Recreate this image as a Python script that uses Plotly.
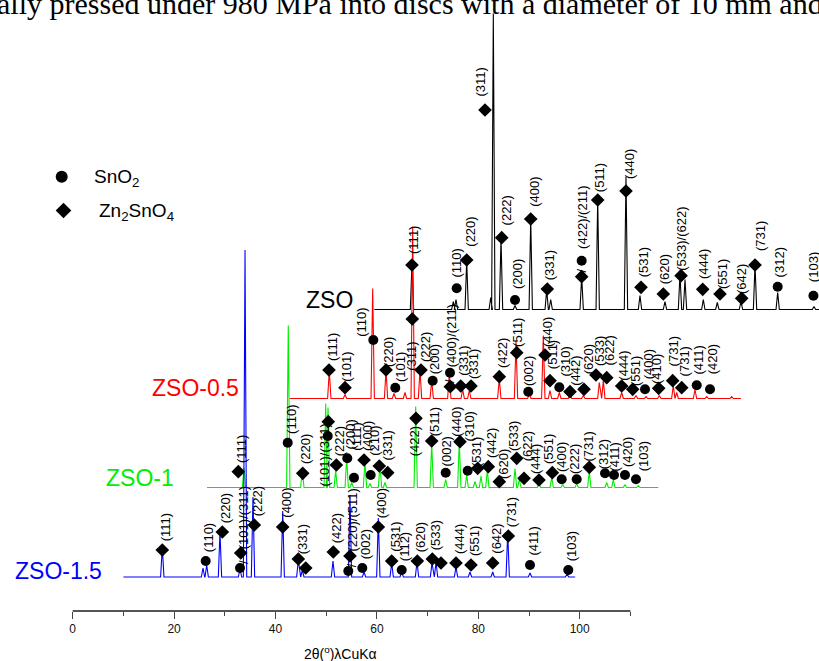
import plotly.graph_objects as go

# ---------------- data (2theta in degrees, intensity in arbitrary units) -------------
blue_peak_2theta = [17.67, 25.70, 26.43, 29.05, 33.00, 33.99, 35.56, 41.42, 44.50, 45.29, 51.34,
                    54.69, 57.46, 60.28, 62.92, 64.89, 67.91, 70.87, 71.66, 75.60, 78.36, 82.84,
                    85.80, 90.20, 97.50]
blue_peak_int = [30, 9, 12, 45, 8, 327, 80, 66, 17, 7, 16, 82, 5, 59, 14, 5, 15, 14, 15, 10, 5, 5,
                 44, 4, 3]

green_peak_2theta = [17.59, 26.32, 29.09, 33.70, 34.16, 35.67, 37.84, 38.83, 41.45, 42.44, 44.41,
                     45.40, 51.45, 54.61, 57.37, 60.05, 61.51, 63.15, 64.33, 65.58, 67.94, 71.04,
                     71.89, 75.77, 78.28, 80.45, 83.21, 85.69, 89.13, 90.43, 92.73, 95.36]
green_peak_int = [20, 162, 18, 84, 80, 17, 29.5, 5, 26, 4, 22.5, 5, 81, 44, 8, 46, 12.5, 6, 11.5,
                  17.5, 4, 19, 8, 4.5, 10, 3, 4, 16, 5, 8, 3, 2]

red_peak_2theta = [17.81, 20.91, 26.37, 29.00, 30.57, 32.74, 34.26, 35.70, 38.01, 41.48, 44.12,
                   45.42, 51.34, 54.64, 57.26, 60.02, 61.34, 63.18, 65.29, 67.91, 71.07, 71.86,
                   75.48, 78.30, 80.28, 82.90, 85.66, 86.33, 89.94, 92.25, 97.18]
red_peak_int = [28, 4, 110, 28, 5, 6, 172, 29, 18, 25, 9, 8, 20, 57, 5, 63, 8, 6, 4, 3, 16, 18, 6,
                3, 2, 3, 13, 6, 9, 2, 2]

black_peak_2theta = [17.82, 25.97, 26.50, 28.61, 33.35, 33.86, 35.38, 38.14, 41.24, 44.39, 45.18,
                     51.29, 54.45, 60.03, 62.79, 67.72, 70.68, 71.67, 75.28, 78.04, 82.71, 85.48,
                     89.95, 97.11]
black_peak_int = [46, 8, 10, 49, 12, 296, 71, 4, 91, 19.5, 10, 33, 111, 133, 14, 8, 35, 30, 10, 7,
                  8, 45, 17, 3]

scan_start = {"ZSO-1.5": 10.0, "ZSO-1": 10.3, "ZSO-0.5": 10.06, "ZSO": 10.39}
scan_end = {"ZSO-1.5": 99.1, "ZSO-1": 99.3, "ZSO-0.5": 99.0, "ZSO": 99.5}

# peak markers: 2theta, level above baseline, phase (C = SnO2, D = Zn2SnO4), hkl label
blue_mk_2theta = [17.67, 26.23, 29.51, 33.00, 33.14, 35.82, 41.42, 44.50, 45.96, 51.40, 54.36,
                  54.69, 57.12, 60.28, 62.92, 64.89, 67.97, 70.93, 72.64, 75.60, 78.56, 82.84,
                  85.92, 90.20, 97.75]
blue_mk_level = [27, 16, 45, 9, 24, 52, 50, 18, 9, 25, 6, 21, 9, 50, 16, 7, 16, 18, 14, 14, 12, 14,
                 41, 12, 7]
blue_mk_phase = ["D", "C", "D", "C", "D", "D", "D", "D", "D", "D", "C", "D", "C", "D", "D", "C",
                 "D", "D", "D", "D", "D", "D", "D", "C", "C"]
blue_mk_label = ["(111)", "(110)", "(220)", "/", "(101)/(311)", "(222)", "(400)", "(331)", "",
                 "(422)", "/", "(220)/(511)", "(002)", "(400)", "(531)", "(112)", "(620)", "(533)",
                 "", "(444)", "(551)", "(642)", "(731)", "(411)", "(103)"]

green_mk_2theta = [16.46, 26.21, 29.17, 34.10, 34.21, 35.80, 37.96, 39.28, 41.26, 42.58, 44.27,
                   45.93, 51.51, 54.61, 57.37, 60.19, 61.71, 63.68, 65.77, 67.94, 71.38, 72.82,
                   75.77, 78.40, 80.25, 83.21, 85.69, 88.79, 90.57, 92.73, 94.90]
green_mk_level = [15.8, 44.8, 14.2, 51.5, 65.8, 22.5, 29.2, 9.8, 27.5, 12.5, 21.5, 14.8, 69.2,
                  46.5, 14.8, 45.8, 16.8, 19.2, 20.8, 5.8, 29.2, 9.2, 7.5, 14.8, 8.2, 8.2, 20.2,
                  14.2, 12.5, 12.5, 8.2]
green_mk_phase = ["D", "C", "D", "C", "D", "D", "C", "C", "D", "C", "D", "D", "D", "D", "C", "D",
                  "C", "D", "D", "D", "D", "D", "D", "D", "C", "C", "D", "C", "C", "C", "C"]
green_mk_label = ["(111)", "(110)", "(220)", "", "(101)/(311)", "(222)", "(200)", "(111)",
                  "(400)", "(210)", "", "(331)", "(422)", "(511)", "(002)", "(440)", "(310)",
                  "(531)", "(442)", "(620)", "(533)", "(622)", "(444)", "(551)", "(400)", "(222)",
                  "(731)", "(312)", "(411)", "(420)", "(103)"]

red_mk_2theta = [17.75, 20.91, 26.49, 29.00, 30.83, 34.18, 35.90, 38.20, 41.68, 41.62, 43.73,
                 45.76, 51.34, 54.78, 57.06, 60.36, 61.34, 63.18, 65.29, 68.05, 70.41, 72.53,
                 75.48, 77.65, 80.08, 82.78, 85.54, 87.32, 90.28, 92.90]
red_mk_level = [28.5, 10.8, 58.5, 28.5, 10.8, 79.5, 28.5, 17.8, 11.8, 25.8, 12.5, 12.5, 21.8,
                45.8, 6.8, 43.5, 17.8, 11.2, 6.8, 9.2, 23.5, 20.8, 12.5, 9.2, 9.2, 10.2, 17.8,
                10.8, 13.2, 9.2]
red_mk_phase = ["D", "D", "C", "D", "C", "D", "D", "C", "D", "C", "D", "D", "D", "D", "C", "D",
                "D", "C", "D", "D", "D", "D", "D", "D", "C", "D", "D", "D", "C", "C"]
red_mk_label = ["(111)", "(101)", "(110)", "(220)", "(101)", "(311)", "(222)", "(200)", "/",
                "(400)/(211)", "(331)", "(331)", "(422)", "(511)", "(002)", "(440)", "(511)",
                "(310)", "(442)", "(620)", "(533)", "(622)", "(444)", "(551)", "(400)", "(410)",
                "(731)", "(731)", "(411)", "(420)"]

black_mk_2theta = [17.82, 26.64, 28.61, 32.22, 35.52, 38.14, 41.24, 44.51, 51.29, 51.29, 54.45,
                   60.03, 62.99, 67.39, 70.89, 75.16, 78.57, 82.85, 85.48, 89.95, 97.00]
black_mk_level = [44.5, 21.2, 49.5, 199.5, 71.8, 9.5, 90.5, 20.5, 32.8, 48.8, 109.5, 118.5, 22.2,
                  15.5, 33.8, 20.2, 15.5, 11.2, 44.5, 22.8, 13.8]
black_mk_phase = ["D", "C", "D", "D", "D", "C", "D", "D", "D", "C", "D", "D", "D", "D", "D", "D",
                  "D", "D", "D", "C", "C"]
black_mk_label = ["(111)", "(110)", "(220)", "(311)", "(222)", "(200)", "(400)", "(331)", "/",
                  "(422)/(211)", "(511)", "(440)", "(531)", "(620)", "(533)/(622)", "(444)",
                  "(551)", "(642)", "(731)", "(312)", "(103)"]

x_tick_values = [0, 20, 40, 60, 80, 100]
x_tick_labels = ["0", "20", "40", "60", "80", "100"]

# ---------------- layout / style settings ----------------
W, H = 819, 661
PX_PER_DEG = 5.07
X0_PX = 72.7
XMIN = -X0_PX / PX_PER_DEG
XMAX = (W - X0_PX) / PX_PER_DEG

series = [
    # name, color, x-shift (deg), baseline (y units), peaks, markers
    ("ZSO", "#000000", 49.1, 351.5, black_peak_2theta, black_peak_int,
     black_mk_2theta, black_mk_level, black_mk_phase, black_mk_label),
    ("ZSO-0.5", "#FF0000", 32.8, 262.5, red_peak_2theta, red_peak_int,
     red_mk_2theta, red_mk_level, red_mk_phase, red_mk_label),
    ("ZSO-1", "#00EE00", 16.2, 173.5, green_peak_2theta, green_peak_int,
     green_mk_2theta, green_mk_level, green_mk_phase, green_mk_label),
    ("ZSO-1.5", "#0000FF", 0.0, 84.0, blue_peak_2theta, blue_peak_int,
     blue_mk_2theta, blue_mk_level, blue_mk_phase, blue_mk_label),
]

# label offsets (dx px, gap px above marker centre); default (3, 8)
label_offsets = {
    "ZSO-1.5": {3: (3, 3), 4: (3, 3), 7: (4, 4), 10: (3, 3), 11: (3, 4)},
    "ZSO-1": {4: (-4, -66), 7: (3, 26), 9: (3, 18), 11: (0, 11), 12: (-2, -39), 13: (3, 4),
              14: (1, 5), 15: (-3, 4), 16: (2, 28), 17: (-1, 0), 19: (4, 2), 20: (-3, 6),
              21: (3, 16), 22: (-4, 5), 23: (-4, 8), 24: (0, 6), 25: (-2, 4), 26: (-1, 5),
              27: (-2, 3), 28: (0, 2), 29: (2, 7), 30: (7, 7)},
    "ZSO-0.5": {1: (2, 5), 2: (-12, 2), 3: (2, 2), 4: (5, 5), 5: (-1, -53), 6: (4, 7),
                7: (2, 5), 8: (-1, 3), 9: (1, 4), 10: (2, 9), 11: (2, 6), 13: (0, 5),
                14: (0, 5), 15: (2, 7), 16: (2, 11), 17: (6, 10), 18: (6, 5), 19: (4, 14),
                20: (3, 8), 21: (3, 11), 22: (1, 4), 23: (3, 2), 24: (3, 9), 25: (-2, 3),
                26: (1, 13), 27: (3, 10), 28: (2, 10), 29: (2, 14)},
    "ZSO": {0: (1, 10), 1: (0, 10), 2: (3, 12), 3: (-4, 13), 4: (5, 11), 5: (2, 10),
            6: (3, 11), 7: (2, 8), 8: (0, 3), 9: (1, 11), 10: (2, 7), 11: (3, 11), 12: (2, 9),
            13: (1, 9), 14: (1, 4), 15: (1, 9), 16: (2, 4), 17: (0, 3), 18: (5, 13),
            19: (2, 8), 20: (0, 13)},
}

LABEL_FONT = dict(family="Liberation Sans, Arial, sans-serif", size=13, color="black")
PEAK_HALF_WIDTH = 0.33


def profile(start, end, pos, inten):
    xs, ys = [start], [0.0]
    for t, h in sorted(zip(pos, inten)):
        xs += [t - PEAK_HALF_WIDTH, t, t + PEAK_HALF_WIDTH]
        ys += [0.0, h, 0.0]
    xs.append(end)
    ys.append(0.0)
    return xs, ys


fig = go.Figure()
annotations = []

# lines
for name, color, shift, base, p_t, p_i, m_t, m_l, m_p, m_lab in series:
    xs, ys = profile(scan_start[name], scan_end[name], p_t, p_i)
    fig.add_trace(go.Scatter(x=[v + shift for v in xs], y=[v + base for v in ys], mode="lines",
                             line=dict(color=color, width=1.1), hoverinfo="skip",
                             showlegend=False))

# markers and hkl labels
for name, color, shift, base, p_t, p_i, m_t, m_l, m_p, m_lab in series:
    for phase, sym in (("C", "circle"), ("D", "diamond")):
        xs = [t + shift for t, p in zip(m_t, m_p) if p == phase]
        ys = [lv + base for lv, p in zip(m_l, m_p) if p == phase]
        fig.add_trace(go.Scatter(x=xs, y=ys, mode="markers",
                                 marker=dict(symbol=sym, size=10.5 if sym == "diamond" else 10,
                                             color="black", line=dict(width=0)),
                                 hoverinfo="skip", showlegend=False))
    offs = label_offsets.get(name, {})
    for i, (t, lv, lab) in enumerate(zip(m_t, m_l, m_lab)):
        if not lab:
            continue
        dx, gap = offs.get(i, (3, 8))
        annotations.append(dict(x=t + shift, y=lv + base, xref="x", yref="y", text=lab,
                                textangle=-90, showarrow=False, xanchor="center",
                                yanchor="bottom", xshift=dx, yshift=gap, borderpad=0,
                                font=LABEL_FONT))

# phase key
key_y = [661 - 176.7, 661 - 210.5]
fig.add_trace(go.Scatter(x=[(61.7 - X0_PX) / PX_PER_DEG], y=[key_y[0]], mode="markers",
                         marker=dict(symbol="circle", size=12, color="black"),
                         hoverinfo="skip", showlegend=False))
fig.add_trace(go.Scatter(x=[(63.5 - X0_PX) / PX_PER_DEG], y=[key_y[1]], mode="markers",
                         marker=dict(symbol="diamond", size=12, color="black"),
                         hoverinfo="skip", showlegend=False))
key_font = dict(family="Liberation Sans, Arial, sans-serif", size=19, color="black")
annotations.append(dict(x=92 / W, y=1 - 178 / H, xref="paper", yref="paper",
                        text="SnO<sub>2</sub>", showarrow=False, xanchor="left",
                        yanchor="middle", font=key_font))
annotations.append(dict(x=97 / W, y=1 - 212 / H, xref="paper", yref="paper",
                        text="Zn<sub>2</sub>SnO<sub>4</sub>", showarrow=False, xanchor="left",
                        yanchor="middle", font=key_font))

# sample names
name_pos = {"ZSO": (355, 300), "ZSO-0.5": (241, 388), "ZSO-1": (176, 478), "ZSO-1.5": (104, 571)}
for name, color, *_ in series:
    px, py = name_pos[name]
    annotations.append(dict(x=px / W, y=1 - py / H, xref="paper", yref="paper", text=name,
                            showarrow=False, xanchor="right", yanchor="middle",
                            font=dict(family="Liberation Sans, Arial, sans-serif", size=23,
                                      color=color)))

# axis title
annotations.append(dict(x=340 / W, y=1 - 653 / H, xref="paper", yref="paper",
                        text="2θ(<sup>o</sup>)λCuKα", showarrow=False, xanchor="center",
                        yanchor="middle",
                        font=dict(family="Liberation Sans Narrow, Liberation Sans, Arial",
                                  size=14, color="black")))

# page text above the figure (cropped at the top edge like the scan)
annotations.append(dict(x=0.5, y=1 + 15 / H, xref="paper", yref="paper",
                        text="ally pressed under 980 MPa into discs with a diameter of 10 mm and",
                        showarrow=False, xanchor="center", yanchor="top",
                        font=dict(family="Liberation Serif, Times New Roman, serif", size=30,
                                  color="black")))

AXIS_Y = 661 - 611
fig.add_shape(type="line", x0=0, x1=110, y0=AXIS_Y, y1=AXIS_Y, xref="x", yref="y",
              line=dict(color="#555555", width=2))

fig.update_layout(
    width=W, height=H, autosize=False,
    margin=dict(l=0, r=0, t=0, b=0),
    paper_bgcolor="white", plot_bgcolor="white",
    annotations=annotations,
    xaxis=dict(range=[XMIN, XMAX], domain=[0, 1], anchor="free", position=AXIS_Y / H,
               showline=False, showgrid=False, zeroline=False,
               tickmode="array", tickvals=x_tick_values, ticktext=x_tick_labels,
               ticks="outside", ticklen=7, tickwidth=1.2, tickcolor="#444444",
               tickfont=dict(family="Liberation Sans, Arial, sans-serif", size=12,
                             color="#111111"),
               minor=dict(tickvals=[10, 30, 50, 70, 90, 110], ticks="outside", ticklen=4,
                          tickwidth=1.2, tickcolor="#444444", showgrid=False)),
    yaxis=dict(range=[0, H], domain=[0, 1], visible=False, showgrid=False, zeroline=False),
)

fig.write_html("out.html")
